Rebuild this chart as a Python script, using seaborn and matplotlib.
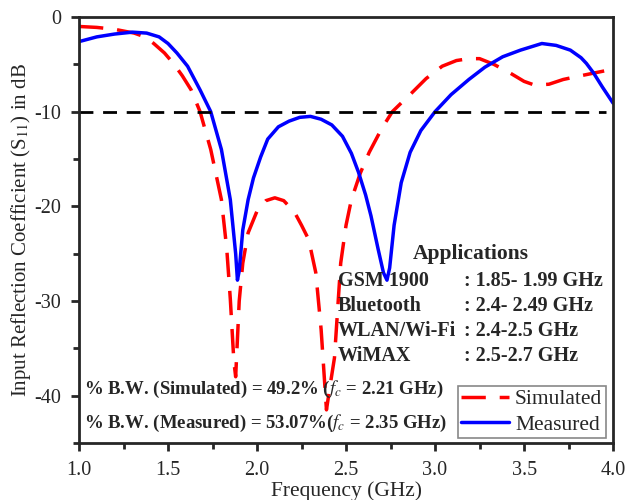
import matplotlib
matplotlib.use("Agg")
import matplotlib.pyplot as plt
import pandas as pd
import seaborn as sns
from matplotlib.ticker import MultipleLocator

# Traced S11 curves (GHz, dB)
sim_freq = [1.00, 1.10, 1.20, 1.31, 1.37, 1.42, 1.48, 1.53, 1.58, 1.63, 1.68, 1.74, 1.80, 1.83,
            1.85, 1.87, 1.88, 1.90, 1.92, 1.95, 2.00, 2.05, 2.10, 2.15, 2.21, 2.25, 2.29, 2.33,
            2.36, 2.39, 2.41, 2.435, 2.47, 2.50, 2.53, 2.58, 2.63, 2.70, 2.76, 2.82, 2.87, 2.95,
            3.04, 3.12, 3.19, 3.25, 3.33, 3.42, 3.50, 3.56, 3.64, 3.72, 3.82, 3.95]
sim_s11 = [-1.0, -1.1, -1.3, -1.7, -2.1, -2.8, -3.8, -4.9, -6.2, -7.7, -10.0, -14.0, -19.3, -24.5,
           -29.8, -36.4, -38.0, -30.0, -26.0, -22.8, -20.5, -19.4, -19.1, -19.4, -20.6, -22.0, -23.5, -27.0,
           -33.0, -41.5, -39.0, -36.0, -26.0, -22.0, -19.3, -16.5, -14.3, -11.8, -10.0, -8.9, -8.0, -6.5,
           -5.2, -4.6, -4.4, -4.4, -5.0, -5.9, -6.8, -7.2, -7.1, -6.6, -6.2, -5.7]

meas_freq = [1.00, 1.10, 1.20, 1.30, 1.38, 1.45, 1.50, 1.55, 1.61, 1.68, 1.74, 1.80, 1.85, 1.88,
             1.89, 1.90, 1.92, 1.95, 1.98, 2.02, 2.06, 2.12, 2.18, 2.24, 2.30, 2.36, 2.42, 2.48,
             2.53, 2.57, 2.61, 2.64, 2.68, 2.71, 2.73, 2.745, 2.77, 2.81, 2.86, 2.92, 3.00, 3.09,
             3.19, 3.28, 3.38, 3.48, 3.60, 3.68, 3.76, 3.82, 3.85, 3.89, 3.94, 4.00]
meas_s11 = [-2.6, -2.1, -1.8, -1.6, -1.7, -2.1, -2.8, -3.8, -5.2, -7.7, -10.0, -14.0, -19.3, -25.0,
            -27.8, -26.8, -22.5, -19.3, -17.0, -14.8, -12.9, -11.6, -11.0, -10.6, -10.5, -10.8, -11.4, -12.6,
            -14.4, -16.4, -18.8, -21.0, -24.5, -27.0, -27.8, -26.5, -22.0, -17.5, -14.3, -12.0, -10.0, -8.2,
            -6.6, -5.3, -4.2, -3.5, -2.8, -3.0, -3.5, -4.3, -4.9, -5.9, -7.4, -9.1]

series_names = ["Simulated", "Measured"]
threshold_db = -10

app_names = ["GSM 1900", "Bluetooth", "WLAN/Wi-Fi", "WiMAX"]
app_bands = [": 1.85- 1.99 GHz", ": 2.4- 2.49 GHz", ": 2.4-2.5 GHz", ": 2.5-2.7 GHz"]

df = pd.concat([
    pd.DataFrame({"freq": sim_freq, "s11": sim_s11, "series": "Simulated"}),
    pd.DataFrame({"freq": meas_freq, "s11": meas_s11, "series": "Measured"}),
])

sns.set_style("ticks")
plt.rcParams["font.family"] = ["Liberation Serif", "DejaVu Serif"]
plt.rcParams["mathtext.fontset"] = "stix"
plt.rcParams["axes.unicode_minus"] = False

fig = plt.figure(figsize=(6.34, 5.0), dpi=100)
ax = fig.add_axes([0.1246, 0.114, 0.8424, 0.852])

sns.lineplot(
    data=df, x="freq", y="s11", hue="series", style="series",
    hue_order=series_names, style_order=series_names,
    palette={"Simulated": "#ff0000", "Measured": "#0000ff"},
    dashes={"Simulated": (7, 4), "Measured": ""},
    linewidth=2.5, sort=False, ax=ax,
)
ax.axhline(threshold_db, xmin=0, xmax=0.987, color="black", linestyle=(0, (5, 3.5)), linewidth=2)

ax.set_xlim(1.0, 4.0)
ax.set_ylim(-45, 0)
ax.xaxis.set_major_locator(MultipleLocator(0.5))
ax.xaxis.set_minor_locator(MultipleLocator(0.25))
ax.yaxis.set_major_locator(MultipleLocator(10))
ax.yaxis.set_minor_locator(MultipleLocator(5))
ax.tick_params(which="major", length=6, width=2, labelsize=14.5, pad=7, direction="out")
ax.tick_params(which="minor", length=4, width=2, direction="out")
for spine in ax.spines.values():
    spine.set_visible(True)
    spine.set_linewidth(2)

ax.set_xlabel("Frequency (GHz)", fontsize=15.5, labelpad=1)
ax.set_ylabel(r"Input Reflection Coefficient (S$_{11}$) in dB", fontsize=15, labelpad=1)

# application notes
ax.text(3.20, -25.0, "Applications", fontsize=15.5, fontweight="bold", ha="center", va="center")
for i, (name, band) in enumerate(zip(app_names, app_bands)):
    y = -27.9 - 2.63 * i
    ax.text(2.455, y, name, fontsize=14.5, fontweight="bold", va="center")
    ax.text(3.165, y, band, fontsize=14.5, fontweight="bold", va="center")

ax.text(1.03, -39.3, r"% B.W. (Simulated) = 49.2% ($\mathit{f_c}$ = 2.21 GHz)",
        fontsize=13.5, fontweight="bold", va="center")
ax.text(1.03, -42.9, r"% B.W. (Measured) = 53.07%($\mathit{f_c}$ = 2.35 GHz)",
        fontsize=13.5, fontweight="bold", va="center")

leg = ax.legend(loc="lower right", bbox_to_anchor=(0.986, 0.012), borderaxespad=0,
                fontsize=15.5, handlelength=2.2, labelspacing=0.25, fancybox=False,
                edgecolor="#888888", framealpha=1, borderpad=0.15, handletextpad=0.3)
leg.get_frame().set_linewidth(1.2)

fig.savefig("out.png", dpi=100)
